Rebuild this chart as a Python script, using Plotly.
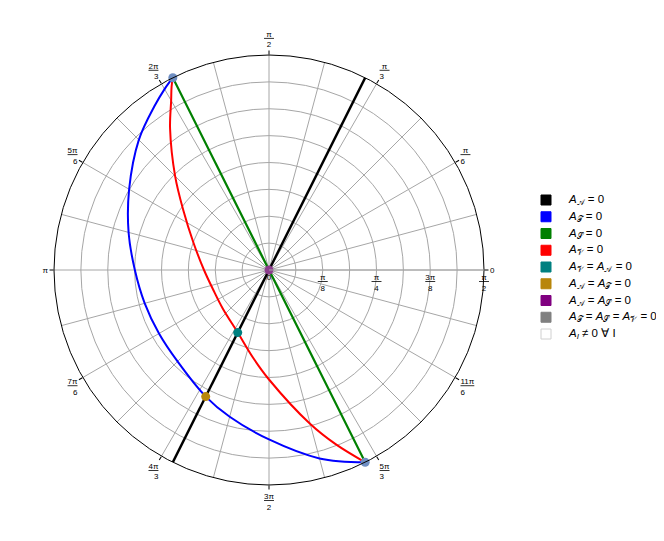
import plotly.graph_objects as go
import numpy as np

PI = np.pi
RMAX = PI / 2

# ---- data (theta in degrees, r in radians) ----
black_theta = [243.43, 63.43]
black_r = [RMAX, RMAX]

green_theta = [116.57, 296.57]
green_r = [RMAX, RMAX]

blue_theta = [116.57, 120, 125, 135, 150, 165, 180, 195, 210, 225, 243.43, 255, 270, 285, 296.57]
blue_r = [1.571, 1.526, 1.46, 1.345, 1.18, 1.062, 0.98, 0.94, 0.928, 0.945, 1.034, 1.11, 1.238, 1.425, 1.571]

red_theta = [116.57, 118, 120, 125, 135, 145, 160, 180, 200, 220, 243.43, 260, 270, 285, 291, 296.57]
red_r = [1.571, 1.516, 1.43, 1.26, 0.97, 0.765, 0.588, 0.475, 0.432, 0.44, 0.511, 0.655, 0.80, 1.165, 1.365, 1.571]

teal_theta = [243.43]
teal_r = [0.511]
gold_theta = [243.43]
gold_r = [1.034]
purple_theta = [0]
purple_r = [0]
gray_theta = [116.57, 296.57]
gray_r = [RMAX, RMAX]

legend_labels = [
    "<i>A</i><sub>𝒜</sub> = 0",
    "<i>A</i><sub>𝒯</sub> = 0",
    "<i>A</i><sub>𝒮</sub> = 0",
    "<i>A</i><sub>𝒱</sub> = 0",
    "<i>A</i><sub>𝒱</sub> = <i>A</i><sub>𝒜</sub> = 0",
    "<i>A</i><sub>𝒜</sub> = <i>A</i><sub>𝒯</sub> = 0",
    "<i>A</i><sub>𝒜</sub> = <i>A</i><sub>𝒮</sub> = 0",
    "<i>A</i><sub>𝒯</sub> = <i>A</i><sub>𝒮</sub> = <i>A</i><sub>𝒱</sub> = 0",
    "<i>A</i><sub><i>I</i></sub> ≠ 0 ∀ I",
]
legend_colors = ["#000000", "#0000ff", "#008000", "#ff0000", "#008080",
                 "#b8860b", "#800080", "#808080", "#ffffff"]

ang_tickvals = [0, 30, 60, 90, 120, 150, 180, 210, 240, 270, 300, 330]
ang_ticktext = ["0", "<u> π </u><br>6", "<u> π </u><br>3", "<u> π </u><br>2",
                "<u>2π</u><br>3", "<u>5π</u><br>6", "π", "<u>7π</u><br>6",
                "<u>4π</u><br>3", "<u>3π</u><br>2", "<u>5π</u><br>3", "<u>11π</u><br>6"]

rad_tickvals = [i * PI / 16 for i in range(9)]
rad_ticktext = ["0", " ", "<u> π </u><br>8", " ", "<u> π </u><br>4", " ",
                "<u>3π</u><br>8", " ", "<u> π </u><br>2"]

minor_spokes = [15, 45, 75, 105, 135, 165, 195, 225, 255, 285, 315, 345]

GRID = "#a6a6a6"
W, H = 664, 541

fig = go.Figure()

# extra spokes every 15 degrees
sp_t, sp_r = [], []
for a in minor_spokes:
    sp_t += [a, a, None]
    sp_r += [0, RMAX, None]
fig.add_trace(go.Scatterpolar(r=sp_r, theta=sp_t, mode="lines",
                              line=dict(color=GRID, width=1),
                              showlegend=False, hoverinfo="skip"))

fig.add_trace(go.Scatterpolar(r=blue_r, theta=blue_theta, mode="lines",
                              line=dict(color="#0000ff", width=2, shape="spline"),
                              showlegend=False))
fig.add_trace(go.Scatterpolar(r=red_r, theta=red_theta, mode="lines",
                              line=dict(color="#ff0000", width=2, shape="spline"),
                              showlegend=False))
fig.add_trace(go.Scatterpolar(r=green_r, theta=green_theta, mode="lines",
                              line=dict(color="#008000", width=2.2),
                              showlegend=False))
fig.add_trace(go.Scatterpolar(r=black_r, theta=black_theta, mode="lines",
                              line=dict(color="#000000", width=2.5),
                              showlegend=False))

fig.add_trace(go.Scatterpolar(r=teal_r, theta=teal_theta, mode="markers",
                              marker=dict(color="#008080", size=9), showlegend=False))
fig.add_trace(go.Scatterpolar(r=gold_r, theta=gold_theta, mode="markers",
                              marker=dict(color="#b8860b", size=9), showlegend=False))
fig.add_trace(go.Scatterpolar(r=purple_r, theta=purple_theta, mode="markers",
                              marker=dict(color="#8c3c8c", size=9), showlegend=False))
fig.add_trace(go.Scatterpolar(r=gray_r, theta=gray_theta, mode="markers",
                              marker=dict(color="#6f8ec2", size=9), showlegend=False))

# manual legend (square swatches + labels)
shapes, annotations = [], []
for i, (lab, col) in enumerate(zip(legend_labels, legend_colors)):
    yc = 192 + 16.75 * i
    shapes.append(dict(
        type="rect", xref="paper", yref="paper",
        x0=533 / W, x1=543 / W, y0=1 - (yc + 5) / H, y1=1 - (yc - 5) / H,
        fillcolor=col, line=dict(color="#d0d0d0" if col == "#ffffff" else col, width=1),
    ))
    annotations.append(dict(
        xref="paper", yref="paper", x=558 / W, y=1 - yc / H,
        xanchor="left", yanchor="middle", text=lab, showarrow=False,
        font=dict(size=11.5, color="black"),
    ))

fig.update_layout(
    width=W, height=H,
    margin=dict(l=0, r=0, t=0, b=0),
    paper_bgcolor="white",
    showlegend=False,
    font=dict(family="Liberation Sans, Arial, sans-serif", color="black"),
    shapes=shapes,
    annotations=annotations,
    polar=dict(
        domain=dict(x=[46 / W, 476 / W], y=[1 - 477 / H, 1 - 47 / H]),
        bgcolor="white",
        angularaxis=dict(
            tickmode="array", tickvals=ang_tickvals, ticktext=ang_ticktext,
            rotation=0, direction="counterclockwise",
            showline=True, linecolor="black", linewidth=1,
            ticks="outside", ticklen=4, tickcolor="black",
            gridcolor=GRID, gridwidth=1,
            tickfont=dict(size=8, color="black"),
        ),
        radialaxis=dict(
            range=[0, RMAX], angle=0, tickangle=0,
            tickmode="array", tickvals=rad_tickvals, ticktext=rad_ticktext,
            showline=True, linecolor=GRID, linewidth=1,
            ticks="", gridcolor=GRID, gridwidth=1,
            tickfont=dict(size=8, color="black"),
        ),
    ),
)

fig.write_html("out.html")
